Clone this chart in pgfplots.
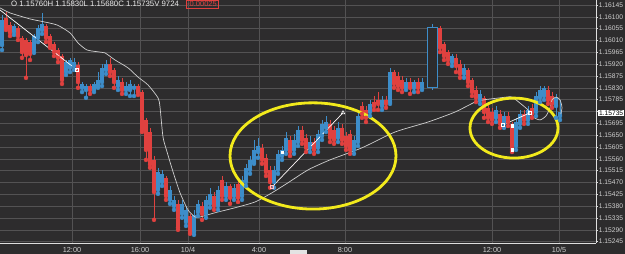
\documentclass[border=0pt]{standalone}
\usepackage{pgfplots}
\pgfplotsset{compat=1.18}
\usepackage{pgfplotstable}
\usepackage{fontspec}
\setmainfont{Liberation Sans}
\definecolor{bg}{HTML}{2D2C2D}
\definecolor{gridc}{HTML}{535253}
\definecolor{cred}{HTML}{E0413F}
\definecolor{cblue}{HTML}{3D8DC9}
\definecolor{lab}{HTML}{D0D0D0}
\definecolor{yel}{HTML}{F2EA1C}
\definecolor{mac}{HTML}{CFCFCF}

% up candles: x, high, low, body top, body bottom (price offset: 1.15 + value/100000)
\pgfplotstableread{
x h l t b
2 1107 974 1088 993
14 1073 1031 1065 1042
34 1035 963 1027 974
38 1069 1004 1058 1020
42 1115 1035 1073 1050
66 936 879 928 890
70 944 890 936 906
74 944 898 928 913
82 852 814 845 830
86 845 792 837 822
94 852 814 845 822
98 890 830 860 837
102 921 837 906 852
106 936 883 921 898
118 875 822 860 837
126 852 807 837 822
130 860 799 845 822
134 845 799 837 830
158 526 427 510 442
162 518 457 503 472
170 457 389 442 404
174 419 366 404 381
182 404 336 389 351
186 381 305 366 320
194 366 271 347 282
198 404 343 389 358
206 419 336 404 351
210 450 374 427 389
218 457 366 442 381
226 472 404 457 419
234 465 404 450 419
242 495 404 480 419
246 541 457 526 472
250 571 503 556 518
254 632 541 594 548
258 640 564 609 586
274 533 450 518 472
278 594 503 579 518
282 609 556 594 571
286 662 579 640 594
294 655 579 632 594
298 685 609 670 624
310 647 586 624 602
318 670 586 655 602
322 708 632 693 647
326 723 662 700 678
338 700 624 678 640
354 647 579 632 594
358 738 609 723 624
370 784 723 769 738
382 799 746 784 761
390 906 769 890 776
406 868 822 852 830
414 860 814 852 830
422 868 822 852 830
452 959 913 951 928
464 921 868 906 883
480 822 769 807 784
496 761 700 746 716
504 738 678 723 693
516 716 594 700 609
520 746 678 731 693
528 761 693 746 708
536 814 723 799 738
540 837 776 822 792
544 837 784 830 799
556 807 716 792 761
560 784 708 738 723
}\upc

% down candles
\pgfplotstableread{
x h l t b
6 1118 1050 1096 1058
10 1080 1027 1069 1039
18 1065 1012 1058 1027
22 1027 944 1020 966
26 1020 868 1012 955
30 1012 936 1004 959
46 1073 1004 1065 1020
50 1035 982 1027 993
54 1004 951 997 966
58 982 928 974 944
62 959 845 951 860
78 928 830 917 852
90 845 807 837 822
110 944 875 921 890
114 906 830 898 852
122 868 807 852 822
138 845 803 837 814
142 822 662 814 670
146 716 556 708 594
150 678 526 662 537
154 571 328 556 434
166 495 404 488 419
178 404 290 389 298
190 351 275 343 282
202 396 328 381 351
214 434 366 419 381
222 495 404 480 419
230 465 389 457 412
238 480 396 465 412
262 617 541 602 556
266 579 495 564 510
270 533 450 518 472
290 647 571 632 586
302 685 617 670 632
306 655 586 640 602
314 640 579 624 594
330 708 624 693 640
334 685 617 670 632
342 693 617 678 632
346 662 594 647 609
350 670 579 655 594
362 776 716 761 731
366 761 700 746 716
374 799 746 776 761
378 814 746 784 769
386 799 754 784 769
394 898 830 890 845
398 890 822 875 837
402 875 814 860 830
410 868 807 852 830
418 868 814 852 830
440 1065 966 1058 982
444 1004 936 997 951
448 974 921 966 936
456 959 890 944 913
460 936 868 921 883
468 906 837 898 852
472 868 799 860 814
476 837 776 822 792
484 799 716 792 738
488 769 700 754 716
492 754 693 738 708
500 746 678 731 693
508 738 685 723 700
512 700 586 693 594
524 746 693 731 708
532 769 716 754 731
548 837 769 822 784
552 814 754 799 769
}\dnc

\begin{document}
\begin{tikzpicture}
\fill[bg] (-1pt,-12pt) rectangle (626pt,244pt);
\begin{axis}[
  at={(0,0)}, anchor=south west,
  width=596pt, height=243pt, scale only axis,
  xmin=0, xmax=596, ymin=240, ymax=1164,
  axis x line*=bottom, axis y line*=right,
  axis line style={-, color=lab!70, line width=0.6pt},
  grid=major, major grid style={gridc, line width=0.6pt},
  xtick={72,140,188,259,345,492,559},
  xticklabels={12:00,16:00,10/4,4:00,8:00,12:00,10/5},
  ytick={245,290,335,380,425,470,515,560,605,650,695,740,785,830,875,920,965,1010,1055,1100,1145},
  yticklabels={1.15245,1.15290,1.15335,1.15380,1.15425,1.15470,1.15515,1.15560,1.15605,1.15650,1.15695,{},1.15785,1.15830,1.15875,1.15920,1.15965,1.16010,1.16055,1.16100,1.16145},
  x tick style={draw=none},
  y tick style={lab!70, line width=0.5pt},
  major tick length=2pt,
  tick align=outside,
  xticklabel style={font=\fontsize{7.3}{7.5}\selectfont, text=lab, yshift=1pt},
  yticklabel style={font=\fontsize{6.7}{7}\selectfont, text=lab, inner sep=0.6pt},
  clip=false,
]
% wicks
\addplot[cblue, only marks, mark=none, error bars/.cd, y dir=plus, y explicit, error mark=none,
  error bar style={line width=0.8pt, cblue}]
  table[x=x, y=l, y error plus expr=\thisrow{h}-\thisrow{l}] {\upc};
\addplot[cred, only marks, mark=none, error bars/.cd, y dir=plus, y explicit, error mark=none,
  error bar style={line width=0.8pt, cred}]
  table[x=x, y=l, y error plus expr=\thisrow{h}-\thisrow{l}] {\dnc};
% bodies
\addplot[cblue, only marks, mark=none, error bars/.cd, y dir=plus, y explicit, error mark=none,
  error bar style={line width=3.2pt, cblue}]
  table[x=x, y=b, y error plus expr=\thisrow{t}-\thisrow{b}] {\upc};
\addplot[cred, only marks, mark=none, error bars/.cd, y dir=plus, y explicit, error mark=none,
  error bar style={line width=3.2pt, cred}]
  table[x=x, y=b, y error plus expr=\thisrow{t}-\thisrow{b}] {\dnc};
% big hollow up candle
\addplot[cblue, line width=0.8pt] coordinates {(432,1058) (432,1073)};
\addplot[cblue, line width=0.8pt] coordinates {(432,822) (432,830)};
\addplot[cblue, line width=0.8pt, fill=bg] coordinates {(427,830) (437,830) (437,1058) (427,1058) (427,830)};
% moving average
\addplot[mac, line width=0.7pt, smooth, tension=0.4] coordinates {
(0,1134) (10,1115) (30,1092) (40,1084) (57,1069) (70,1039) (78,1001) (87,974) (100,966)
(105,963) (115,936) (128,906) (138,871) (148,841) (158,792) (160,757) (163,643) (167,587)
(173,511) (180,431) (188,366) (195,339) (200,339) (215,355) (235,374) (255,396) (272,431)
(288,469) (300,499) (310,522) (330,556) (362,602) (395,662) (428,700) (455,738) (475,776)
(483,784) (507,795) (512,795) (520,772) (528,746) (533,719) (540,708) (546,723) (550,754)
(552,784) (556,795) (560,784) (562,754) (560,719)};
% trend lines
\addplot[white, line width=0.7pt] coordinates {(0,1126) (77,898)};
\addplot[white!90!pink, line width=0.7pt] coordinates {(272,453) (343,735)};
\addplot[white, line width=0.7pt] coordinates {(503,689) (530,735)};
\addplot[white, only marks, mark=square, mark size=1.6pt, mark options={line width=0.6pt}]
  coordinates {(77,898) (530,735) (503,689)};
\addplot[pink, only marks, mark=square, mark size=1.6pt, mark options={line width=0.6pt}]
  coordinates {(272,453)};
\addplot[white, only marks, mark=triangle, mark size=2pt, mark options={line width=0.6pt}]
  coordinates {(343,735)};
\addplot[white, only marks, mark=square*, mark size=1.3pt]
  coordinates {(512,685) (512,594) (282,586)};
% highlight ellipses
\draw[yel, line width=2.8pt] (axis cs:313,571) ellipse [x radius=83, y radius=202];
\draw[yel, line width=2.8pt] (axis cs:514,677) ellipse [x radius=44, y radius=114];
% header text
\node[anchor=north west, inner sep=0pt, text=white!92!black, font=\fontsize{7.8}{8}\selectfont]
  at (axis cs:11,1161) {O 1.15760H 1.15830L 1.15680C 1.15735V 9724};
\node[anchor=north west, inner sep=1pt, draw=cred, text=cred, font=\fontsize{7.5}{8}\selectfont]
  at (axis cs:186,1163) {-0.00025};
% last price box
\node[anchor=west, fill=white, text=black, inner sep=0.8pt, font=\fontsize{6.7}{7}\selectfont]
  at (axis cs:598,735) {1.15735};
\end{axis}
\fill[lab!60] (290pt,-11pt) rectangle (307pt,-7pt);
\pgfresetboundingbox
\useasboundingbox (0,-11pt) rectangle (625pt,243pt);
\end{tikzpicture}
\end{document}
